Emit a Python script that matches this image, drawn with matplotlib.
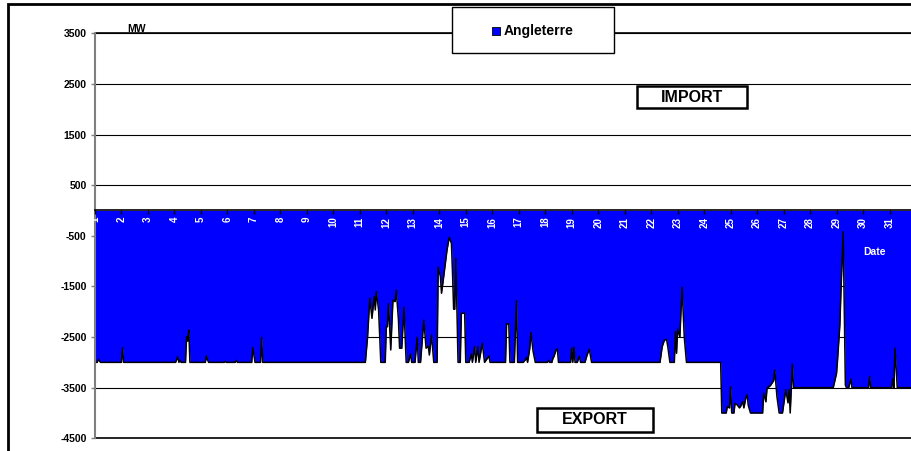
import numpy as np
import matplotlib
matplotlib.use('Agg')
import matplotlib.pyplot as plt
from matplotlib.patches import Rectangle

plt.rcParams['font.family'] = ['Liberation Sans', 'DejaVu Sans']

# hourly exchange with England (hour of month, MW)
hours = [0, 2, 3, 5, 24, 25, 26, 73, 75, 76, 77, 78, 82, 83, 84, 85, 86,
         100, 101, 102, 103, 117, 118, 119, 127, 128, 129, 142, 143, 144, 145,
         150, 151, 152, 245, 247, 249, 251, 253, 254, 255, 257, 259, 263, 264,
         265, 266, 268, 270, 272, 273, 275, 276, 278, 280, 282, 284, 286, 287,
         290, 292, 293, 295, 298, 300, 302, 303, 305, 307, 310, 311, 313, 314,
         316, 319, 321, 323, 324, 325, 326, 327, 329, 331, 332, 335, 336, 339,
         340, 341, 342, 344, 345, 347, 348, 351, 353, 357, 358, 372, 373, 375,
         376, 380, 382, 383, 388, 390, 391, 392, 394, 395, 397, 399, 410, 411,
         412, 414, 415, 416, 418, 419, 420, 431, 432, 433, 434, 435, 437, 439,
         440, 444, 446, 448, 450, 512, 514, 516, 518, 519, 521, 525, 526, 527,
         528, 530, 532, 534, 536, 567, 568, 572, 573, 575, 576, 577, 579, 580,
         582, 584, 585, 587, 588, 590, 591, 592, 594, 605, 606, 608, 609, 612,
         615, 616, 618, 620, 623, 626, 628, 629, 630, 632, 633, 669, 672, 673,
         675, 676, 678, 679, 680, 681, 683, 685, 686, 701, 702, 703, 722, 723,
         724, 725, 727, 744]
mw = [-3000, -3000, -2940, -3000, -3000, -2710, -3000, -3000, -2890, -3000,
      -2960, -3000, -3000, -2490, -2580, -2360, -3000, -3000, -2870, -2950,
      -3000, -3000, -2980, -3000, -3000, -2960, -3000, -3000, -2710, -2860,
      -3000, -3000, -2505, -3000, -3000, -2500, -1735, -2130, -1700, -1965,
      -1600, -1965, -3000, -3000, -2295, -2295, -1845, -2755, -1770, -1800,
      -1570, -2165, -2720, -2720, -1910, -3000, -3000, -2835, -3000, -3000,
      -2505, -3000, -3000, -2165, -2720, -2680, -2855, -2460, -3000, -3000,
      -1120, -1305, -1635, -1305, -780, -530, -650, -1240, -1950, -1950,
      -945, -3000, -3000, -2030, -2030, -3000, -3000, -2920, -2840, -3000,
      -2690, -3000, -2690, -3000, -2620, -3000, -2875, -3000, -3000, -2240,
      -2240, -3000, -3000, -1780, -3000, -3000, -2950, -2900, -3000, -2720,
      -2410, -2780, -3000, -3000, -2960, -3000, -3000, -2920, -2880, -2740,
      -2740, -3000, -3000, -2720, -3000, -2700, -3000, -3000, -2880, -3000,
      -3000, -2850, -2740, -3000, -3000, -2690, -2560, -2550, -2680, -3000,
      -3000, -2395, -2820, -2345, -2500, -1515, -2500, -3000, -3000, -4000,
      -4000, -3875, -3900, -3480, -4000, -4000, -3810, -3840, -3900, -3870,
      -3775, -3900, -3680, -3645, -3850, -4000, -4000, -3610, -3780, -3510,
      -3460, -3360, -3150, -3680, -4000, -4000, -3540, -3800, -3540, -4000,
      -3030, -3500, -3500, -3215, -2920, -2260, -1600, -420, -1930, -3450,
      -3500, -3500, -3330, -3500, -3500, -3280, -3500, -3500, -3330, -3500,
      -2720, -3500, -3500]
days = list(range(1, 32))
yticks = list(range(-4500, 3501, 1000))

x = 1 + np.array(hours) / 24.0

W, H = 912, 451
fig = plt.figure(figsize=(W / 100, H / 100), dpi=100)
ax = fig.add_axes([95 / W, 1 - 438.3 / H, (916 - 95) / W, (438.3 - 33.3) / H])

ax.fill_between(x, 0, mw, color='#0000FF', lw=0, zorder=1)
ax.plot(x, mw, color='black', lw=1.1, zorder=1.5)

ax.set_xlim(1, 32)
ax.set_ylim(-4500, 3500)
ax.set_yticks(yticks)
ax.set_yticklabels([str(v) for v in yticks], fontweight='bold')
ax.yaxis.grid(True, color='black', lw=0.8)
ax.set_axisbelow(True)
ax.xaxis.set_zorder(2.5)   # date ticks sit on top of the blue area
ax.axhline(3500, color='black', lw=1.2, clip_on=False, zorder=0.6)
ax.axhline(-4500, color='black', lw=1.2, clip_on=False, zorder=0.6)

ax.spines['bottom'].set_position(('data', 0))
ax.spines['bottom'].set_linewidth(1.2)
ax.spines['bottom'].set_zorder(2.5)
ax.spines['left'].set_color('#808080')
ax.spines['left'].set_linewidth(1.5)
ax.spines['top'].set_visible(False)
ax.spines['right'].set_visible(False)

ax.set_xticks(days)
ax.set_xticklabels([str(d) for d in days], rotation=90, fontweight='bold')
ax.tick_params(axis='x', direction='out', length=3, width=1, color='black',
               pad=1.5, labelcolor='white', labelsize=7)
ax.tick_params(axis='y', direction='out', length=3, width=1, color='#808080',
               pad=3, labelsize=7.5)

fig.text(137 / W, 1 - 29 / H, 'MW', ha='center', va='center', fontsize=7.5, fontweight='bold')
fig.text(875 / W, 1 - 252 / H, 'Date', ha='center', va='center', fontsize=7.5,
         fontweight='bold', color='white')

# legend box
fig.add_artist(Rectangle((452 / W, 1 - 53 / H), 162 / W, 46 / H, transform=fig.transFigure,
                         fc='white', ec='black', lw=1, zorder=5))
fig.add_artist(Rectangle((492 / W, 1 - 35 / H), 8 / W, 8 / H, transform=fig.transFigure,
                         fc='#0000FF', ec='black', lw=0.6, zorder=6))
fig.text(504 / W, 1 - 31 / H, 'Angleterre', ha='left', va='center', fontsize=10,
         fontweight='bold', zorder=6)

# IMPORT / EXPORT boxes
for label, (x0, y0, x1, y1) in [('IMPORT', (637, 86, 747, 108)), ('EXPORT', (537, 408, 653, 432))]:
    fig.add_artist(Rectangle((x0 / W, 1 - y1 / H), (x1 - x0) / W, (y1 - y0) / H,
                             transform=fig.transFigure, fc='white', ec='black', lw=1.8, zorder=5))
    fig.text((x0 + x1) / 2 / W, 1 - (y0 + y1) / 2 / H, label, ha='center', va='center',
             fontsize=11.5, fontweight='bold', zorder=6)

# outer chart border
fig.add_artist(Rectangle((8 / W, -0.05), 1.1, 1.05 - 4 / H, transform=fig.transFigure,
                         fill=False, ec='black', lw=2, clip_on=False))

fig.savefig('out.png', dpi=100)
